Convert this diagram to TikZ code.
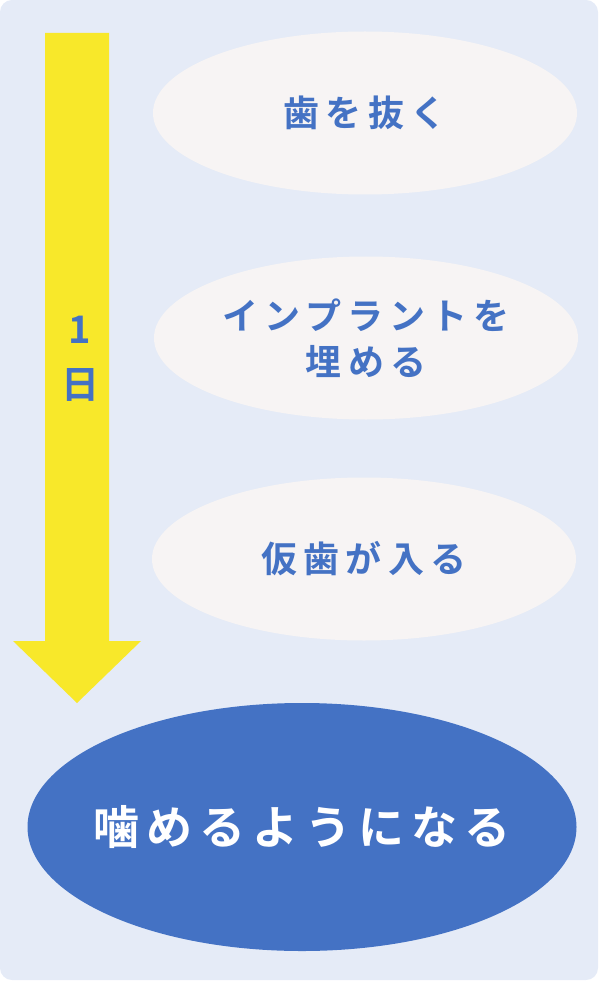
\documentclass[tikz,border=0pt]{standalone}
\usepackage{fontspec}
\usetikzlibrary{positioning,shapes.geometric}
\newfontfamily\jpfont[LetterSpace=17]{Noto Sans CJK JP Bold}
\newfontfamily\jpbigfont[LetterSpace=15]{Noto Sans CJK JP Bold}
\definecolor{bgblue}{HTML}{E5EBF7}
\definecolor{textblue}{HTML}{4472C4}
\definecolor{bubble}{HTML}{F7F4F4}
\definecolor{arrowyellow}{HTML}{F8E82A}
\tikzset{
  step bubble/.style={ellipse, fill=bubble, minimum width=424pt, minimum height=163pt,
    inner sep=0pt},
  step text/.style={text=textblue, font=\jpfont\fontsize{36}{46}\selectfont,
    align=center, inner sep=0pt},
  goal/.style={ellipse, fill=textblue, minimum width=549pt, minimum height=248pt,
    inner sep=0pt},
  goal text/.style={text=white, font=\jpbigfont\fontsize{46}{50}\selectfont, inner sep=0pt}
}
\begin{document}
\begin{tikzpicture}[x=1pt,y=-1pt]
    \useasboundingbox (0,0) rectangle (600,981);
    \fill[bgblue, rounded corners=12pt] (0,0) rectangle (598,980);
    % yellow time arrow
    \fill[arrowyellow] (45,33) -- (109,33) -- (109,641) -- (141,641) -- (77,703)
        -- (13,641) -- (45,641) -- cycle;
    \node[text=textblue, font=\jpfont\fontsize{38}{55}\selectfont, align=center,
        inner sep=0pt] (day) at (80,359) {1\\日};
    % steps
    \node[step bubble, label={[step text]center:歯を抜く}] (extract) at (365,113) {};
    \node[step bubble, label={[step text]center:インプラントを\\埋める}] (implant) at (366,338) {};
    \node[step bubble, label={[step text]center:仮歯が入る}] (temp) at (364,559) {};
    \node[goal, label={[goal text]center:噛めるようになる}] (chew) at (302,827) {};
\end{tikzpicture}
\end{document}
